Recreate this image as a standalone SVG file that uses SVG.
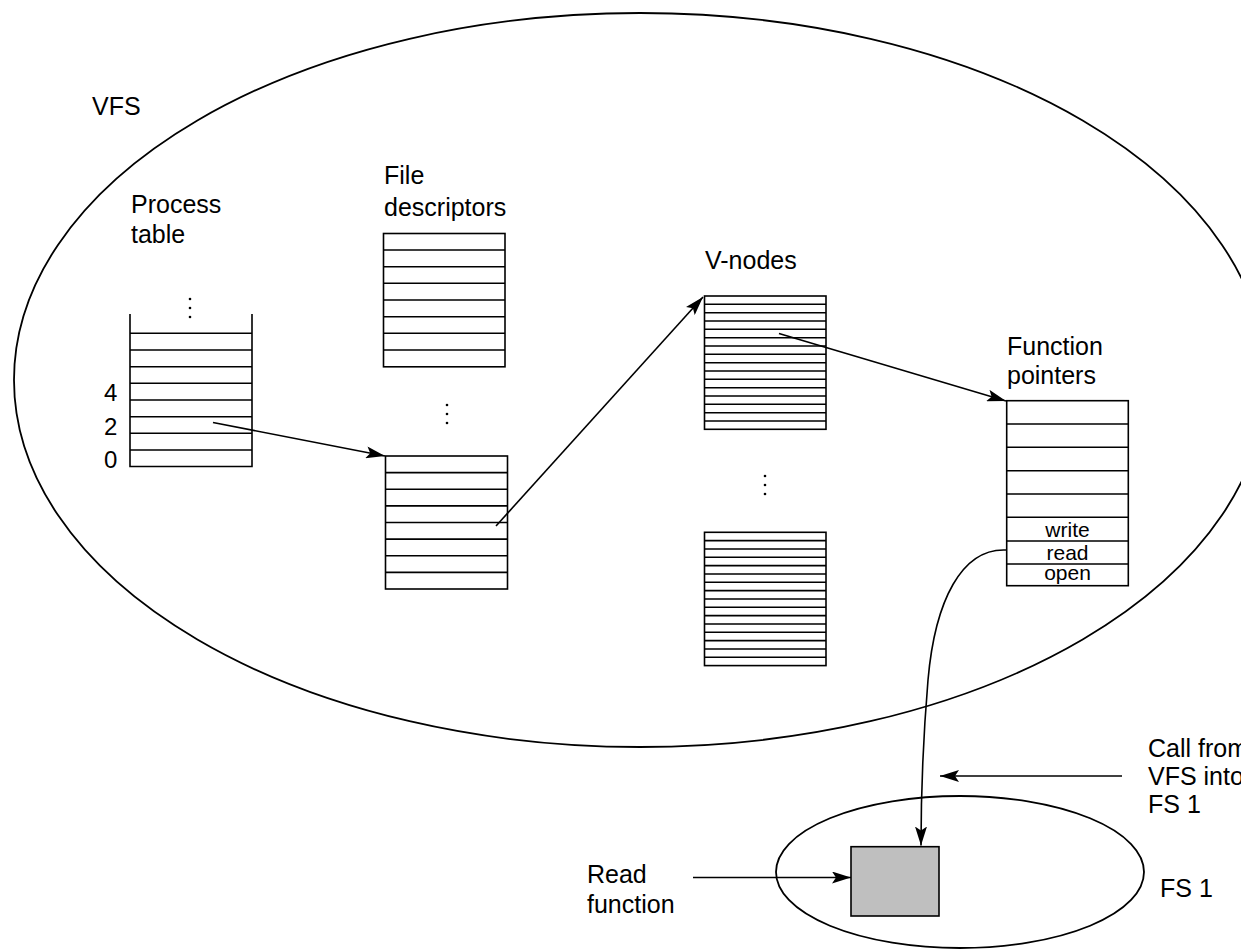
<svg xmlns="http://www.w3.org/2000/svg" width="1241" height="951" viewBox="0 0 1241 951">
<style>
.t{font-family:"Liberation Sans",Arial,sans-serif;font-size:25px;fill:#000}
.s{font-family:"Liberation Sans",Arial,sans-serif;font-size:21px;fill:#000}
.n{font-family:"Liberation Sans",Arial,sans-serif;font-size:24px;fill:#000}
.tb{fill:#fff;stroke:#000;stroke-width:1.6}
.ln{stroke:#000;stroke-width:1.6;fill:none}
.el{fill:none;stroke:#000;stroke-width:1.8}
.ar{stroke:#000;stroke-width:1.6;fill:none;marker-end:url(#ah)}
.dot{fill:#000}
</style>
<defs>
<marker id="ah" markerUnits="userSpaceOnUse" markerWidth="20" markerHeight="12" refX="19" refY="6" orient="auto">
<path d="M0,0 L19,6 L0,12 L4,6 z" fill="#000"/>
</marker>
</defs>
<rect width="1241" height="951" fill="#fff"/>
<g id="vfs">
<ellipse class="el" cx="640" cy="380" rx="626" ry="367"/>
<text class="t" x="92" y="115">VFS</text>
</g>
<g id="process-table">
<text class="t" x="131" y="213">Process</text>
<text class="t" x="131" y="243">table</text>
<circle class="dot" cx="190" cy="299" r="1.3"/>
<circle class="dot" cx="190" cy="308" r="1.3"/>
<circle class="dot" cx="190" cy="317" r="1.3"/>
<path class="ln" d="M130,314 V466.5 H252 V314"/>
<path class="ln" d="M130,333.3 H252 M130,350 H252 M130,366.7 H252 M130,383.3 H252 M130,400 H252 M130,416.7 H252 M130,433.3 H252 M130,450 H252"/>
<text class="n" x="104" y="401">4</text>
<text class="n" x="104" y="435">2</text>
<text class="n" x="104" y="468">0</text>
</g>
<g id="file-descriptors">
<text class="t" x="384" y="184">File</text>
<text class="t" x="384" y="216">descriptors</text>
<rect class="tb" x="383.5" y="233.5" width="121.5" height="133.3"/>
<path class="ln" d="M383.5,250 H505 M383.5,266.7 H505 M383.5,283.3 H505 M383.5,300 H505 M383.5,316.7 H505 M383.5,333.3 H505 M383.5,350 H505"/>
<circle class="dot" cx="447" cy="405" r="1.3"/>
<circle class="dot" cx="447" cy="414" r="1.3"/>
<circle class="dot" cx="447" cy="423" r="1.3"/>
<rect class="tb" x="385.5" y="456" width="122" height="133"/>
<path class="ln" d="M385.5,472.6 H507.5 M385.5,489.2 H507.5 M385.5,505.9 H507.5 M385.5,522.5 H507.5 M385.5,539.1 H507.5 M385.5,555.7 H507.5 M385.5,572.4 H507.5"/>
</g>
<g id="v-nodes">
<text class="t" x="705" y="269">V-nodes</text>
<rect class="tb" x="704.5" y="296" width="121.5" height="133.3"/>
<path class="ln" d="M704.5,304.3 H826 M704.5,312.7 H826 M704.5,321 H826 M704.5,329.3 H826 M704.5,337.7 H826 M704.5,346 H826 M704.5,354.3 H826 M704.5,362.7 H826 M704.5,371 H826 M704.5,379.3 H826 M704.5,387.7 H826 M704.5,396 H826 M704.5,404.3 H826 M704.5,412.7 H826 M704.5,421 H826"/>
<circle class="dot" cx="765" cy="476" r="1.3"/>
<circle class="dot" cx="765" cy="485" r="1.3"/>
<circle class="dot" cx="765" cy="494" r="1.3"/>
<rect class="tb" x="704.5" y="532.3" width="121.5" height="133.3"/>
<path class="ln" d="M704.5,540.6 H826 M704.5,549 H826 M704.5,557.3 H826 M704.5,565.6 H826 M704.5,574 H826 M704.5,582.3 H826 M704.5,590.6 H826 M704.5,599 H826 M704.5,607.3 H826 M704.5,615.6 H826 M704.5,624 H826 M704.5,632.3 H826 M704.5,640.6 H826 M704.5,649 H826 M704.5,657.3 H826"/>
</g>
<g id="function-pointers">
<text class="t" x="1007" y="355">Function</text>
<text class="t" x="1007" y="384">pointers</text>
<rect class="tb" x="1006.7" y="400.7" width="121.6" height="185"/>
<path class="ln" d="M1006.7,424 H1128.3 M1006.7,447.3 H1128.3 M1006.7,470.7 H1128.3 M1006.7,494 H1128.3 M1006.7,517.3 H1128.3 M1006.7,541 H1128.3 M1006.7,564 H1128.3"/>
<text class="s" x="1067.5" y="537" text-anchor="middle">write</text>
<text class="s" x="1067.5" y="560" text-anchor="middle">read</text>
<text class="s" x="1067.5" y="580" text-anchor="middle">open</text>
</g>
<g id="fs1">
<ellipse class="el" cx="960" cy="872" rx="184" ry="76"/>
<rect x="851" y="846.7" width="88" height="69.3" fill="#bfbfbf" stroke="#000" stroke-width="1.6"/>
<text class="t" x="1160" y="897">FS 1</text>
</g>
<g id="read-function-label">
<text class="t" x="587" y="883">Read</text>
<text class="t" x="587" y="913">function</text>
</g>
<g id="call-label">
<text class="t" x="1148" y="757">Call from</text>
<text class="t" x="1148" y="785">VFS into</text>
<text class="t" x="1148" y="813">FS 1</text>
</g>
<g id="connectors">
<path class="ar" d="M213,422.5 L385,456"/>
<path class="ar" d="M496,526 L703,297"/>
<path class="ar" d="M779,333.5 L1006,401"/>
<path class="ar" d="M1006,550 C962,548 935,600 928,680 C923,740 921,790 921,845.5"/>
<path class="ar" d="M1122,776 L940,776"/>
<path class="ar" d="M693,877.5 L851,877.5"/>
</g>
</svg>
